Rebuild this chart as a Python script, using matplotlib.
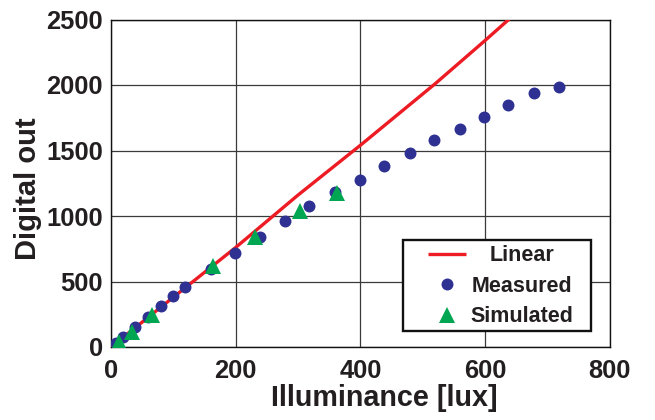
import matplotlib
matplotlib.use("Agg")
import matplotlib.pyplot as plt
from matplotlib.patches import Rectangle

# ---- data ----
linear_x = [0, 200, 300, 400, 520, 600, 645]
linear_y = [0, 760, 1160, 1540, 2010, 2340, 2530]

measured_x = [8, 20, 39, 60, 80, 100, 119, 160, 199, 239, 279, 318, 359, 399,
              438, 480, 518, 560, 598, 637, 678, 718]
measured_y = [30, 76, 152, 229, 313, 389, 457, 595, 716, 838, 960, 1075, 1181,
              1273, 1380, 1479, 1578, 1662, 1753, 1845, 1936, 1982]

simulated_x = [13, 34, 66, 164, 231, 303, 362]
simulated_y = [38, 114, 244, 617, 838, 1040, 1174]

x_ticks = [0, 200, 400, 600, 800]
y_ticks = [0, 500, 1000, 1500, 2000, 2500]
x_label = "Illuminance [lux]"
y_label = "Digital out"
legend_labels = ["Linear", "Measured", "Simulated"]

# ---- style ----
plt.rcParams['font.family'] = ['Liberation Sans', 'DejaVu Sans']
plt.rcParams['font.weight'] = 'bold'
txt = '#231F20'
red = '#ED1C24'
navy = '#2E3192'
green = '#00A651'

fig = plt.figure(figsize=(6.55, 4.2), dpi=100)
ax = fig.add_axes([111/655, 1 - 347/420, 498.8/655, 327.5/420])

l1, = ax.plot(linear_x, linear_y, color=red, lw=2.4, zorder=3,
              solid_capstyle='butt')
l2, = ax.plot(measured_x, measured_y, 'o', color=navy, ms=8.6, mew=0, zorder=3)
l3, = ax.plot(simulated_x, simulated_y, '^', color=green, ms=11.5, mew=0, zorder=4)

ax.set_xlim(0, 800)
ax.set_ylim(0, 2500)
ax.set_xticks(x_ticks)
ax.set_yticks(y_ticks)
ax.tick_params(length=0, labelsize=18.4, colors=txt)
ax.tick_params(axis='x', pad=9)
ax.tick_params(axis='y', pad=6)
for lab in ax.get_xticklabels() + ax.get_yticklabels():
    lab.set_fontweight('bold')
ax.grid(True, color='#3a3a3a', lw=0.9, zorder=1)
ax.set_axisbelow(True)
for s in ax.spines.values():
    s.set_color('#111111')
    s.set_linewidth(1.0)

ax.set_xlabel(x_label, fontsize=20.7, fontweight='bold', color=txt)
ax.set_ylabel(y_label, fontsize=21, fontweight='bold', color=txt)
ax.xaxis.set_label_coords(0.547, -0.112)
ax.yaxis.set_label_coords(-0.138, 0.484)

# legend frame
rect = Rectangle((0.585, 0.050), 0.962 - 0.585, 0.327 - 0.050,
                 transform=ax.transAxes, facecolor='white', edgecolor='#111111',
                 lw=1.7, zorder=6)
ax.add_patch(rect)
leg = ax.legend([l1, l2, l3], legend_labels, loc='center',
                bbox_to_anchor=(0.781, 0.186), frameon=False, borderpad=0,
                borderaxespad=0, handlelength=1.77, handletextpad=0.19,
                labelspacing=0.44, fontsize=15.5, numpoints=1)
leg.set_zorder(7)
for t in leg.get_texts():
    t.set_fontweight('bold')
    t.set_color(txt)

fig.canvas.draw()
r = fig.canvas.get_renderer()
widths = [t.get_window_extent(r).width for t in leg.get_texts()]
mw = max(widths)
for t, w in zip(leg.get_texts(), widths):
    t.set_x((mw - w) / 2)

fig.savefig("out.png", dpi=100)
